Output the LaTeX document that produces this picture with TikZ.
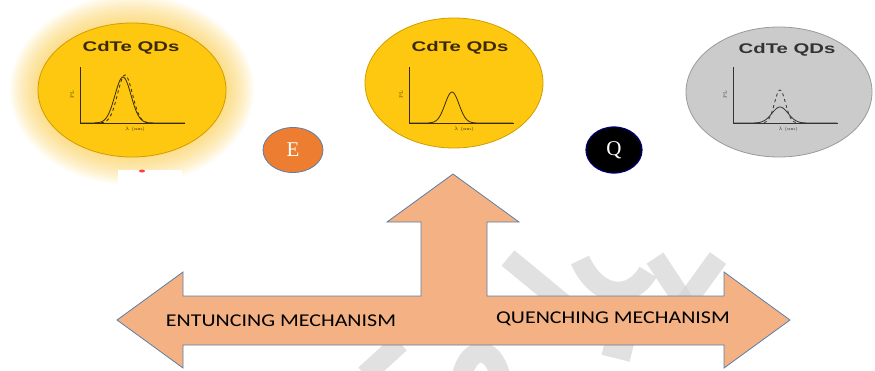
\documentclass[tikz,border=0pt]{standalone}
\usepackage{fontspec}
\newfontfamily\labelfont{Carlito}
\newfontfamily\titlefont{Liberation Sans}
\newfontfamily\letterfont{Liberation Serif}
\usetikzlibrary{shapes.geometric, calc}
\definecolor{qdyellow}{HTML}{FDC80F}
\definecolor{qdedge}{HTML}{D29C00}
\definecolor{qdgray}{HTML}{CBCBCB}
\definecolor{qdgrayedge}{HTML}{9A9A9A}
\definecolor{arrowfill}{HTML}{F4B183}
\definecolor{arrowedge}{HTML}{5B7FA6}
\definecolor{ecol}{HTML}{ED7D31}
\definecolor{glowcol}{HTML}{F9C63A}
\definecolor{inkbrown}{HTML}{3B2A0A}
\definecolor{markcol}{HTML}{D4D4D4}
\tikzset{
    qdtitle/.style={font=\titlefont\bfseries\fontsize{14}{14}\selectfont,
        xscale=1.45, inner sep=0pt},
    mechlabel/.style={font=\labelfont\fontsize{18}{18}\selectfont,
        text=black, xscale=1.22, inner sep=0pt},
    letterdisk/.style={ellipse, font=\letterfont\fontsize{21}{21}\selectfont,
        text=white, inner sep=0pt},
    watermark/.style={draw=markcol, line width=20pt, opacity=.7},
    qdaxes/.pic={
        \draw[line width=.9pt] (0, -56) -- (0, 0) -- (105, 0);
        \node[font=\fontsize{4.5}{5}\selectfont] at (55, 6) {$\lambda$ (nm)};
        \node[font=\fontsize{4.5}{5}\selectfont, rotate=90] at (-8, -28) {PL};
    },
}
\begin{document}
\begin{tikzpicture}[x=1pt, y=-1pt]
    \useasboundingbox (0, 0) rectangle (875, 370);
    \coordinate (qdone) at (132, 90);
    \coordinate (qdtwo) at (454, 83);
    \coordinate (qdthree) at (779, 92);

    % glow round the first dot
    \foreach \g in {1,...,14}
        \fill[glowcol, opacity=.06] (qdone)
            ellipse [x radius={(94+2*\g)*1pt}, y radius={(67+2*\g)*1pt}];
    \fill[white] (118, 170) rectangle (182, 215);
    \fill[red!75] (142, 171) ellipse [x radius=3pt, y radius=1.5pt];

    % the three dots
    \filldraw[fill=qdyellow, draw=qdedge, line width=.8pt] (qdone)
        ellipse [x radius=94pt, y radius=67pt];
    \filldraw[fill=qdyellow, draw=qdedge, line width=.8pt] (qdtwo)
        ellipse [x radius=89pt, y radius=65pt];
    \filldraw[fill=qdgray, draw=qdgrayedge, line width=.8pt] (qdthree)
        ellipse [x radius=93pt, y radius=65pt];

    \node[qdtitle, text=inkbrown] (titleone) at (131, 48) {CdTe QDs};
    \node[qdtitle, text=inkbrown] (titletwo) at (460, 48) {CdTe QDs};
    \node[qdtitle, text=black!80] (titlethree) at (787, 50) {CdTe QDs};

    \pic[inkbrown] at (80, 123) {qdaxes};
    \pic[inkbrown] at (409, 123) {qdaxes};
    \pic[black!80] at (733, 123) {qdaxes};

    % spectra
    \draw[inkbrown, line width=.8pt] plot[domain=0:105, samples=80]
        ({80+\x}, {123-46*exp(-((\x-43)^2)/128)});
    \draw[inkbrown, line width=.8pt, dashed] plot[domain=15:75, samples=60]
        ({80+\x}, {123-48*exp(-((\x-45)^2)/110)});
    \draw[inkbrown, line width=.8pt] plot[domain=0:104, samples=80]
        ({409+\x}, {123-31*exp(-((\x-43)^2)/98)});
    \draw[black!80, line width=.8pt, dashed] plot[domain=25:70, samples=50]
        ({733+\x}, {123-33*exp(-((\x-47)^2)/60)});
    \draw[black!80, line width=.8pt] plot[domain=0:104, samples=80]
        ({733+\x}, {123-16*exp(-((\x-47)^2)/130)});

    \node[letterdisk, fill=ecol, draw=arrowedge, line width=.8pt,
        minimum width=60pt, minimum height=45pt] (enhance) at (293, 150) {E};
    \node[letterdisk, fill=black, draw=blue!45!black, line width=1.2pt,
        minimum width=56pt, minimum height=46pt] (quench) at (614, 150) {Q};

    % faint watermark behind the arrow
    \draw[watermark] (508, 258) -- (565, 305);
    \draw[watermark] (580, 260) .. controls (598, 300) and (632, 300) .. (648, 272);
    \draw[watermark] (655, 258) -- (686, 305);
    \draw[watermark] (718, 258) -- (684, 305);
    \draw[watermark] (365, 375) -- (400, 343);
    \draw[watermark] (462, 375) .. controls (470, 345) and (492, 345) .. (500, 375);
    \draw[watermark] (604, 345) -- (632, 352);

    % three way arrow
    \filldraw[fill=arrowfill, draw=arrowedge, line width=.8pt]
        (117, 320) -- (183, 272) -- (183, 296) -- (421, 296) -- (421, 222)
        -- (387, 222) -- (453, 174) -- (519, 222) -- (487, 222) -- (487, 296)
        -- (724, 296) -- (724, 272) -- (790, 320) -- (724, 368) -- (724, 345)
        -- (183, 345) -- (183, 368) -- cycle;
    \node[mechlabel] (entlabel) at (281, 321) {ENTUNCING MECHANISM};
    \node[mechlabel] (quenchlabel) at (613, 319) {QUENCHING MECHANISM};
\end{tikzpicture}
\end{document}
